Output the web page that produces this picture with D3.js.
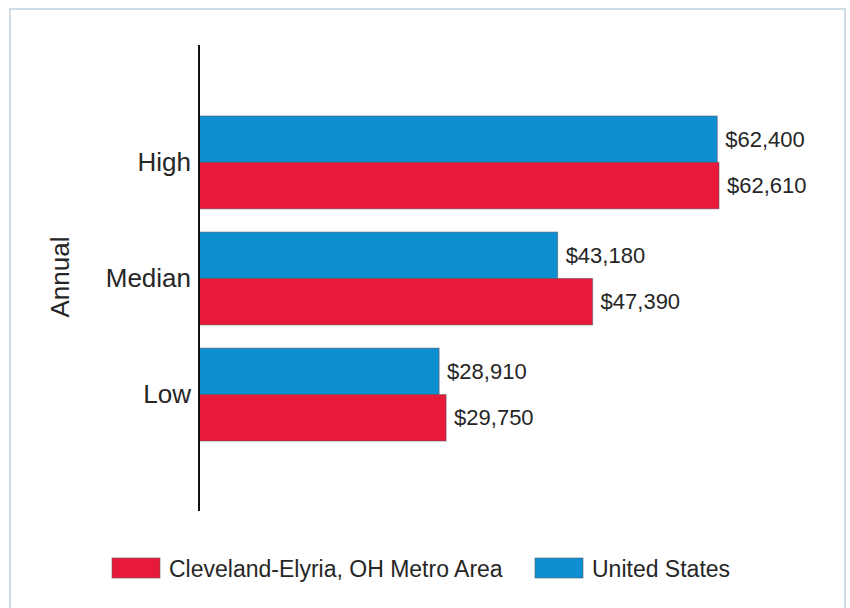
<!DOCTYPE html>
<html>
<head>
<meta charset="utf-8">
<script src="https://cdn.jsdelivr.net/npm/d3@7"></script>
<style>
  body { margin: 0; background: #fff; }
  svg text { font-family: "Liberation Sans", Arial, sans-serif; fill: #262626; }
</style>
</head>
<body>
<div id="chart"></div>
<script>
// wage levels, annual
const categories = ['High', 'Median', 'Low'];
const seriesNames = ['United States', 'Cleveland-Elyria, OH Metro Area'];
const usValues = [62400, 43180, 28910];
const clevelandValues = [62610, 47390, 29750];
const legendOrder = ['Cleveland-Elyria, OH Metro Area', 'United States'];

const seriesColors = {
    'United States': '#0d8fd2',
    'Cleveland-Elyria, OH Metro Area': '#e8193b'
};

const W = 850, H = 608;

const svg = d3.select('#chart').append('svg')
    .attr('width', W)
    .attr('height', H);

// outer frame
svg.append('rect')
    .attr('x', 10).attr('y', 9)
    .attr('width', 835).attr('height', 610)
    .attr('fill', '#fff')
    .attr('stroke', '#cfdde6')
    .attr('stroke-width', 2);

const x = d3.scaleLinear().domain([0, 75000]).range([199, 199 + 75000 * 520 / 62610]);

const y = d3.scaleBand()
    .domain(categories)
    .range([116, 441])
    .paddingInner(0.2)
    .paddingOuter(0);

const ySub = d3.scaleBand()
    .domain(seriesNames)
    .range([0, y.bandwidth()]);

const rows = categories.map((c, i) => ({
    category: c,
    values: [
        { series: 'United States', value: usValues[i] },
        { series: 'Cleveland-Elyria, OH Metro Area', value: clevelandValues[i] }
    ]
}));

const groups = svg.append('g').selectAll('g')
    .data(rows)
    .join('g')
    .attr('transform', d => `translate(0,${y(d.category)})`);

groups.selectAll('rect')
    .data(d => d.values)
    .join('rect')
    .attr('x', x(0))
    .attr('y', d => ySub(d.series))
    .attr('width', d => x(d.value) - x(0))
    .attr('height', ySub.bandwidth())
    .attr('fill', d => seriesColors[d.series])
    .attr('stroke', 'rgba(90,80,90,0.55)')
    .attr('stroke-width', 1);

groups.selectAll('text.val')
    .data(d => d.values)
    .join('text')
    .attr('class', 'val')
    .attr('x', d => x(d.value) + 8)
    .attr('y', d => ySub(d.series) + ySub.bandwidth() / 2)
    .attr('dominant-baseline', 'central')
    .style('font-size', '22px')
    .text(d => '$' + d3.format(',')(d.value));

// category axis
const yAxis = d3.axisLeft(y).tickSize(0).tickPadding(8);
const axisG = svg.append('g')
    .attr('transform', `translate(${x(0)},0)`)
    .call(yAxis);
axisG.select('.domain').remove();
axisG.selectAll('text')
    .style('font-size', '26px')
    .attr('fill', '#262626');

svg.append('line')
    .attr('x1', x(0)).attr('x2', x(0))
    .attr('y1', 45).attr('y2', 511)
    .attr('stroke', '#111')
    .attr('stroke-width', 2);

svg.append('text')
    .attr('transform', 'translate(60,277) rotate(-90)')
    .attr('text-anchor', 'middle')
    .attr('dominant-baseline', 'central')
    .style('font-size', '26px')
    .text('Annual');

// legend
const legendX = [112, 535];
const legend = svg.append('g').selectAll('g')
    .data(legendOrder)
    .join('g')
    .attr('transform', (d, i) => `translate(${legendX[i]},558)`);

legend.append('rect')
    .attr('width', 48).attr('height', 20)
    .attr('fill', d => seriesColors[d])
    .attr('stroke', 'rgba(90,80,90,0.55)')
    .attr('stroke-width', 1);

legend.append('text')
    .attr('x', 57).attr('y', 11)
    .attr('dominant-baseline', 'central')
    .style('font-size', '23px')
    .text(d => d);
</script>
</body>
</html>
